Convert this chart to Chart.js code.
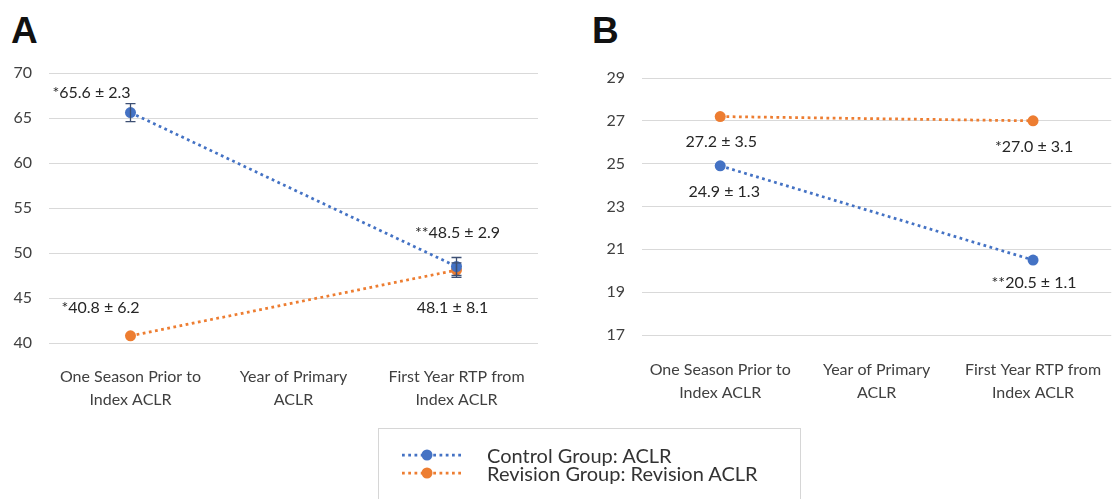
<!DOCTYPE html>
<html lang="en">
<head>
    <meta charset="UTF-8">
    <title>ACLR Groups</title>
    <script src="https://cdn.jsdelivr.net/npm/chart.js"></script>
    <style>
        body { margin: 0; background: #fff; width: 1118px; height: 499px; overflow: hidden; position: relative; font-family: Lato, sans-serif; }
        .panel { position: absolute; top: 0; height: 420px; }
        .letra { position: absolute; font-family: "Liberation Sans", Arial, sans-serif; font-weight: bold; font-size: 37px; color: #111; line-height: 1; }
        .leyenda { position: absolute; left: 378px; top: 428px; width: 423px; height: 90px; border: 1px solid #d6d6d6; box-sizing: border-box; }
        .item { position: absolute; left: 22px; height: 18px; display: flex; align-items: center; font-size: 20px; color: #333; white-space: nowrap; }
        .item canvas { margin-right: 22px; }
    </style>
</head>
<body>
    <div class="letra" style="left:11px; top:12px;">A</div>
    <div class="letra" style="left:592px; top:12px;">B</div>

    <div class="panel" style="left:0; width:560px;"><canvas id="chartA"></canvas></div>
    <div class="panel" style="left:560px; width:558px;"><canvas id="chartB"></canvas></div>

    <div class="leyenda" id="leyenda"></div>

    <script>
        // Datos
        const categorias = [
            ['One Season Prior to', 'Index ACLR'],
            ['Year of Primary', 'ACLR'],
            ['First Year RTP from', 'Index ACLR']
        ];
        const nombres = ['Control Group: ACLR', 'Revision Group: Revision ACLR'];
        const colores = ['#4472c4', '#ed7d31'];

        // Panel A
        const controlA = [65.6, null, 48.5];
        const revisionA = [40.8, null, 48.1];
        const errControlA = [1.0, null, 1.0];
        const errRevisionA = [null, null, 0.8];
        const etiquetasControlA = ['*65.6 \u00b1 2.3', null, '**48.5 \u00b1 2.9'];
        const etiquetasRevisionA = ['*40.8 \u00b1 6.2', null, '48.1 \u00b1 8.1'];
        const ticksA = { min: 40, max: 70, step: 5 };

        // Panel B
        const controlB = [24.9, null, 20.5];
        const revisionB = [27.2, null, 27.0];
        const etiquetasControlB = ['24.9 \u00b1 1.3', null, '**20.5 \u00b1 1.1'];
        const etiquetasRevisionB = ['27.2 \u00b1 3.5', null, '*27.0 \u00b1 3.1'];
        const ticksB = { min: 17, max: 29, step: 2 };

        // dibuja barras de error y etiquetas de texto por punto
        const pluginAnotaciones = {
            id: 'anotaciones',
            afterDatasetsDraw(chart, args, opts) {
                const ctx = chart.ctx;
                const y = chart.scales.y;
                chart.data.datasets.forEach((ds, i) => {
                    const meta = chart.getDatasetMeta(i);
                    meta.data.forEach((pt, j) => {
                        const v = ds.data[j];
                        if (v == null) return;
                        const e = ds.errores ? ds.errores[j] : null;
                        if (e) {
                            const y1 = y.getPixelForValue(v + e);
                            const y2 = y.getPixelForValue(v - e);
                            ctx.save();
                            ctx.strokeStyle = '#3d4f73';
                            ctx.lineWidth = 1.3;
                            ctx.beginPath();
                            ctx.moveTo(pt.x, y1); ctx.lineTo(pt.x, y2);
                            ctx.moveTo(pt.x - 5, y1); ctx.lineTo(pt.x + 5, y1);
                            ctx.moveTo(pt.x - 5, y2); ctx.lineTo(pt.x + 5, y2);
                            ctx.stroke();
                            ctx.restore();
                        }
                        const txt = ds.etiquetas ? ds.etiquetas[j] : null;
                        if (txt) {
                            const off = opts.desplazamientos[i][j];
                            ctx.save();
                            ctx.font = '16px Lato';
                            ctx.fillStyle = '#262626';
                            ctx.textAlign = 'center';
                            ctx.textBaseline = 'middle';
                            ctx.fillText(txt, pt.x + off[0], pt.y + off[1]);
                            ctx.restore();
                        }
                    });
                });
            }
        };

        function serie(nombre, datos, color, errores, etiquetas) {
            return {
                label: nombre,
                data: datos,
                errores: errores,
                etiquetas: etiquetas,
                borderColor: color,
                backgroundColor: color,
                borderWidth: 2.75,
                borderDash: [2.75, 3.5],
                pointRadius: 5.5,
                pointHoverRadius: 5.5,
                pointBorderWidth: 0,
                spanGaps: true,
                fill: false
            };
        }

        function crearGrafico(id, datasets, ticks, caja, desplazamientos) {
            return new Chart(document.getElementById(id), {
                type: 'line',
                data: { labels: categorias, datasets: datasets },
                plugins: [pluginAnotaciones],
                options: {
                    responsive: true,
                    maintainAspectRatio: false,
                    animation: false,
                    layout: { padding: { left: 0, top: caja.top, right: caja.right, bottom: 0 } },
                    plugins: {
                        legend: { display: false },
                        tooltip: { enabled: false },
                        anotaciones: { desplazamientos: desplazamientos }
                    },
                    scales: {
                        x: {
                            offset: true,
                            grid: { display: false },
                            border: { display: false },
                            ticks: { color: '#404040', font: { family: 'Lato', size: 16, lineHeight: 1.4 }, padding: caja.xPad, maxRotation: 0 },
                            afterFit: s => { s.height = caja.xHeight; }
                        },
                        y: {
                            min: ticks.min,
                            max: ticks.max,
                            grid: { color: '#d9d9d9', lineWidth: 1, drawTicks: false },
                            border: { display: false },
                            ticks: { stepSize: ticks.step, color: '#404040', font: { family: 'Lato', size: 16 }, padding: 17 },
                            afterFit: s => { s.width = caja.yWidth; }
                        }
                    }
                }
            });
        }

        crearGrafico('chartA', [
            serie(nombres[0], controlA, colores[0], errControlA, etiquetasControlA),
            serie(nombres[1], revisionA, colores[1], errRevisionA, etiquetasRevisionA)
        ], ticksA,
        { top: 73, right: 22, yWidth: 49, xHeight: 77, xPad: 15 },
        [[[-39, -20], null, [1, -34]], [[-30, -28], null, [-4, 38]]]);

        crearGrafico('chartB', [
            serie(nombres[0], controlB, colores[0], null, etiquetasControlB),
            serie(nombres[1], revisionB, colores[1], null, etiquetasRevisionB)
        ], ticksB,
        { top: 78, right: 2, yWidth: 82, xHeight: 85, xPad: 16 },
        [[[4, 26], null, [1, 23]], [[1, 25], null, [1, 26]]]);

        // leyenda compartida
        const leyenda = document.getElementById('leyenda');
        nombres.forEach((n, i) => {
            const item = document.createElement('div');
            item.className = 'item';
            item.style.top = (17 + i * 18) + 'px';
            const c = document.createElement('canvas');
            c.width = 64; c.height = 14;
            const g = c.getContext('2d');
            g.strokeStyle = colores[i];
            g.lineWidth = 2.75;
            g.setLineDash([2.75, 3.5]);
            g.beginPath(); g.moveTo(1, 7); g.lineTo(63, 7); g.stroke();
            g.fillStyle = colores[i];
            g.beginPath(); g.arc(26, 7, 5.5, 0, Math.PI * 2); g.fill();
            item.appendChild(c);
            const t = document.createElement('span');
            t.textContent = n;
            item.appendChild(t);
            leyenda.appendChild(item);
        });
    </script>
</body>
</html>
